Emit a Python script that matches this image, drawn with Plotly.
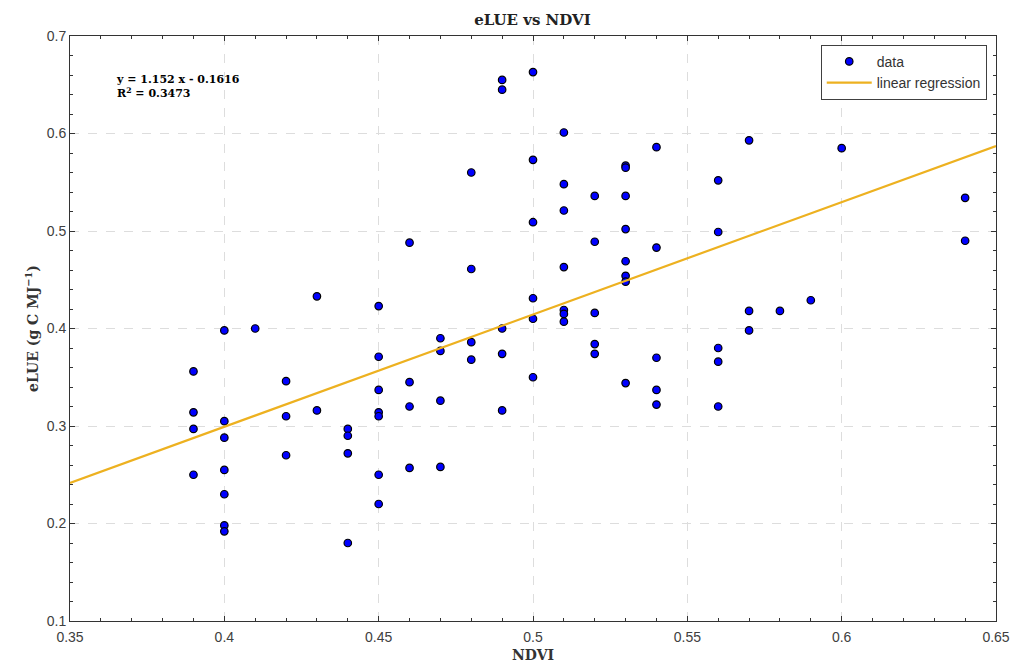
import plotly.graph_objects as go

ndvi = [0.39, 0.39, 0.39, 0.39,
        0.40, 0.40, 0.40, 0.40, 0.40, 0.40, 0.40,
        0.41,
        0.42, 0.42, 0.42,
        0.43, 0.43,
        0.44, 0.44, 0.44, 0.44,
        0.45, 0.45, 0.45, 0.45, 0.45, 0.45, 0.45,
        0.46, 0.46, 0.46, 0.46,
        0.47, 0.47, 0.47, 0.47,
        0.48, 0.48, 0.48, 0.48,
        0.49, 0.49, 0.49, 0.49, 0.49,
        0.50, 0.50, 0.50, 0.50, 0.50, 0.50,
        0.51, 0.51, 0.51, 0.51, 0.51, 0.51, 0.51,
        0.52, 0.52, 0.52, 0.52, 0.52,
        0.53, 0.53, 0.53, 0.53, 0.53, 0.53, 0.53, 0.53,
        0.54, 0.54, 0.54, 0.54, 0.54,
        0.56, 0.56, 0.56, 0.56, 0.56,
        0.57, 0.57, 0.57,
        0.58, 0.59, 0.60,
        0.64, 0.64]
elue = [0.356, 0.314, 0.297, 0.250,
        0.398, 0.305, 0.288, 0.255, 0.230, 0.198, 0.192,
        0.400,
        0.346, 0.310, 0.270,
        0.433, 0.316,
        0.297, 0.290, 0.272, 0.180,
        0.423, 0.371, 0.337, 0.314, 0.310, 0.250, 0.220,
        0.488, 0.345, 0.320, 0.257,
        0.390, 0.377, 0.326, 0.258,
        0.560, 0.461, 0.386, 0.368,
        0.655, 0.645, 0.400, 0.374, 0.316,
        0.663, 0.573, 0.509, 0.431, 0.410, 0.350,
        0.601, 0.548, 0.521, 0.463, 0.419, 0.415, 0.407,
        0.536, 0.489, 0.416, 0.384, 0.374,
        0.567, 0.565, 0.536, 0.502, 0.469, 0.454, 0.448, 0.344,
        0.586, 0.483, 0.370, 0.337, 0.322,
        0.552, 0.499, 0.380, 0.366, 0.320,
        0.593, 0.418, 0.398,
        0.418, 0.429, 0.585,
        0.534, 0.490]

slope = 1.152
intercept = -0.1616
r2 = 0.3473
x_range = [0.35, 0.65]
y_range = [0.1, 0.7]
fit_x = x_range
fit_y = [slope * v + intercept for v in fit_x]

serif = "DejaVu Serif"
sans = "Liberation Sans"
axcol = "#333333"

fig = go.Figure()
fig.add_trace(go.Scatter(
    x=ndvi, y=elue, mode="markers", name="data",
    marker=dict(color="#0000FF", size=7.5, line=dict(color="black", width=1.2)),
))
fig.add_trace(go.Scatter(
    x=fit_x, y=fit_y, mode="lines", name="linear regression",
    line=dict(color="#EDB120", width=2.2),
))
# empty trace to anchor the mirrored (top/right) tick axes
fig.add_trace(go.Scatter(x=[], y=[], xaxis="x2", yaxis="y2", showlegend=False, hoverinfo="skip"))

axis_common = dict(
    showline=True, linecolor=axcol, linewidth=1, mirror=True,
    ticks="inside", ticklen=5, tickcolor=axcol,
    showgrid=True, gridcolor="#DDDDDD", griddash="dash", gridwidth=1,
    zeroline=False, automargin=False,
    tickfont=dict(family=sans, size=14, color="#404040"),
)

fig.update_layout(
    xaxis=dict(range=x_range, dtick=0.05, tick0=0.35,
               minor=dict(dtick=0.01, ticks="inside", ticklen=3, tickcolor=axcol, showgrid=False),
               ticklabelstandoff=3,
               title=dict(text="<b>NDVI</b>", font=dict(family=serif, size=14, color="#333333"), standoff=6),
               **axis_common),
    yaxis=dict(range=y_range, dtick=0.1, tick0=0.1,
               minor=dict(dtick=0.02, ticks="inside", ticklen=3, tickcolor=axcol, showgrid=False),
               title=dict(text="<b>eLUE (g C MJ<sup>−1</sup>)</b>", font=dict(family=serif, size=14, color="#333333"), standoff=4),
               **axis_common),
    xaxis2=dict(range=x_range, dtick=0.05, tick0=0.35, overlaying="x", side="top", anchor="y2",
                ticks="inside", ticklen=5, tickcolor=axcol, showticklabels=False, showgrid=False,
                zeroline=False, showline=False, automargin=False,
                minor=dict(dtick=0.01, ticks="inside", ticklen=3, tickcolor=axcol, showgrid=False)),
    yaxis2=dict(range=y_range, dtick=0.1, tick0=0.1, overlaying="y", side="right", anchor="x2",
                ticks="inside", ticklen=5, tickcolor=axcol, showticklabels=False, showgrid=False,
                zeroline=False, showline=False, automargin=False,
                minor=dict(dtick=0.02, ticks="inside", ticklen=3, tickcolor=axcol, showgrid=False)),
)

fig.add_annotation(
    x=0.048, y=0.94, xref="paper", yref="paper", xanchor="left", yanchor="top",
    text=f"<b>y = {slope} x - {abs(intercept)}<br>R<sup>2</sup> = {r2}</b>",
    showarrow=False, align="left",
    font=dict(family=serif, size=11, color="black"),
)

fig.update_layout(
    width=1024, height=666,
    margin=dict(l=70, r=28, t=36, b=45),
    paper_bgcolor="white", plot_bgcolor="white",
    title=dict(text="<b>eLUE vs NDVI</b>", x=0.52, xanchor="center", y=0.978, yanchor="top",
               font=dict(family=serif, size=15, color="#222222")),
    legend=dict(x=0.99, y=0.985, xanchor="right", yanchor="top",
                bgcolor="white", bordercolor="#404040", borderwidth=1,
                font=dict(family=sans, size=14, color="#333333"),
                itemwidth=45, tracegroupgap=0),
    showlegend=True,
)

fig.write_html("out.html")
